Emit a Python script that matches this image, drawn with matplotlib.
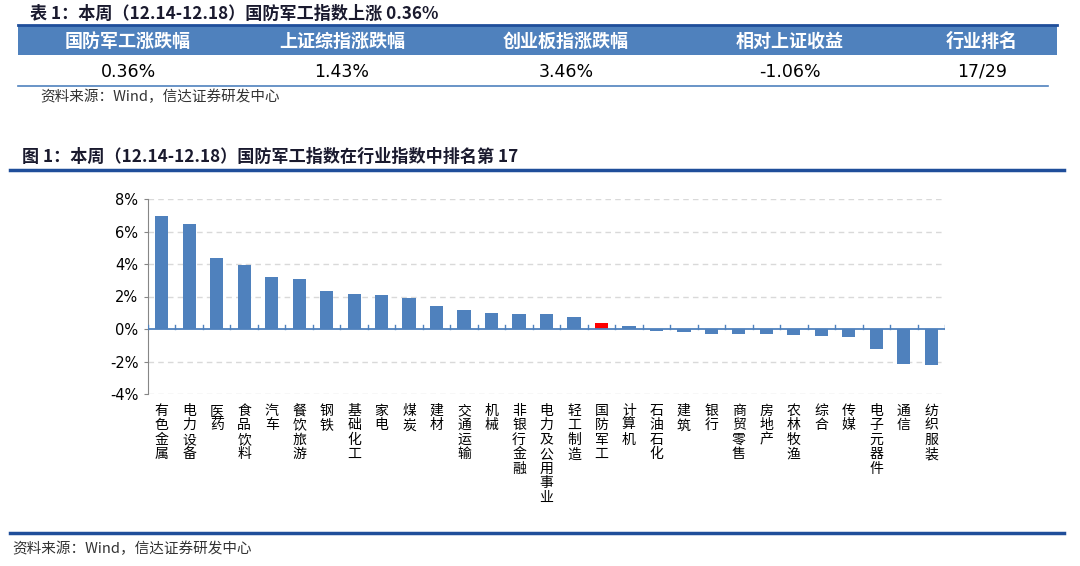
import matplotlib
matplotlib.use("Agg")
import matplotlib.pyplot as plt
from matplotlib.lines import Line2D
from matplotlib.patches import Rectangle

plt.rcParams["font.family"] = ["Noto Sans CJK SC", "DejaVu Sans"]

W, H = 1080, 566

# table data
table_title = "表 1：本周（12.14-12.18）国防军工指数上涨 0.36%"
table_headers = ["国防军工涨跌幅", "上证综指涨跌幅", "创业板指涨跌幅", "相对上证收益", "行业排名"]
table_values = ["0.36%", "1.43%", "3.46%", "-1.06%", "17/29"]
source_text = "资料来源：Wind，信达证券研发中心"

# chart data
chart_title = "图 1：本周（12.14-12.18）国防军工指数在行业指数中排名第 17"
industries = ["有色金属", "电力设备", "医药", "食品饮料", "汽车", "餐饮旅游", "钢铁",
              "基础化工", "家电", "煤炭", "建材", "交通运输", "机械", "非银行金融",
              "电力及公用事业", "轻工制造", "国防军工", "计算机", "石油石化", "建筑",
              "银行", "商贸零售", "房地产", "农林牧渔", "综合", "传媒", "电子元器件",
              "通信", "纺织服装"]
weekly_change = [6.95, 6.48, 4.35, 3.92, 3.22, 3.06, 2.36, 2.15, 2.11, 1.89, 1.42,
                 1.17, 0.98, 0.94, 0.94, 0.72, 0.36, 0.20, -0.10, -0.20, -0.29,
                 -0.29, -0.33, -0.39, -0.43, -0.47, -1.21, -2.13, -2.24]
highlight = "国防军工"
y_ticks = [-4, -2, 0, 2, 4, 6, 8]

BLUE = "#4F81BD"
DARK_BLUE = "#1F4E9A"


def fx(x):
    return x / W


def fy(y):
    return 1 - y / H


fig = plt.figure(figsize=(W / 100, H / 100), dpi=100)

# ---- table block ----
fig.text(fx(30), fy(14), table_title, fontsize=12.3, fontweight="bold",
         color="#1a1a2e", va="center", ha="left")
fig.add_artist(Line2D([fx(18), fx(1057)], [fy(25), fy(25)], color=DARK_BLUE, lw=2))
fig.add_artist(Rectangle((fx(18), fy(55)), fx(1057) - fx(18), fy(26) - fy(55),
                         facecolor=BLUE, edgecolor="none", transform=fig.transFigure))
col_centers = [128, 342, 566, 790, 982]
for cx, hdr, val in zip(col_centers, table_headers, table_values):
    fig.text(fx(cx), fy(41), hdr, fontsize=13, fontweight="bold", color="white",
             ha="center", va="center")
    fig.text(fx(cx), fy(72), val, fontsize=12.5, color="black", ha="center",
             va="center", family=["DejaVu Sans"])
fig.add_artist(Line2D([fx(18), fx(1048)], [fy(86), fy(86)], color=BLUE, lw=1.2))
fig.text(fx(40), fy(97), source_text, fontsize=10.5, color="#333333", ha="left",
         va="center", style="italic")

# ---- chart block ----
fig.text(fx(22), fy(157), chart_title, fontsize=12.3, fontweight="bold",
         color="#1a1a2e", va="center", ha="left")
fig.add_artist(Line2D([fx(10), fx(1064)], [fy(170), fy(170)], color=DARK_BLUE, lw=2.5))
fig.add_artist(Line2D([fx(10), fx(1064)], [fy(533), fy(533)], color=DARK_BLUE, lw=2.5))
fig.text(fx(12), fy(549), source_text, fontsize=10.5, color="#333333", ha="left",
         va="center", style="italic")

ax = fig.add_axes([fx(148), fy(394), fx(945) - fx(148), fy(199) - fy(394)])
x = list(range(len(industries)))
colors = ["#FF0000" if name == highlight else BLUE for name in industries]
ax.bar(x, weekly_change, width=0.48, color=colors, edgecolor="none", zorder=3)

ax.set_xlim(-0.5, len(industries) - 0.5)
ax.set_ylim(min(y_ticks), max(y_ticks))
ax.set_yticks(y_ticks)
ax.set_yticklabels([f"{t}%" for t in y_ticks], family=["DejaVu Sans"], fontsize=10.5)
for t in y_ticks:
    if t != 0:
        ax.axhline(t, color="#D9D9D9", lw=1, ls=(0, (4, 3)), zorder=1)
ax.axhline(0, color=BLUE, lw=1.3, zorder=4)
# small ticks on the zero line between categories
for b in range(len(industries) + 1):
    ax.plot([b - 0.5, b - 0.5], [0, 0.22], color=BLUE, lw=1, zorder=4)

ax.set_xticks(x)
ax.set_xticklabels(["\n".join(n) for n in industries], fontsize=10, linespacing=1.05,
                   va="top")
ax.tick_params(axis="x", length=0, pad=7)
ax.tick_params(axis="y", length=3, color="#868686", pad=4)
for side in ["top", "right", "bottom"]:
    ax.spines[side].set_visible(False)
ax.spines["left"].set_color("#868686")

fig.savefig("out.png", dpi=100)
